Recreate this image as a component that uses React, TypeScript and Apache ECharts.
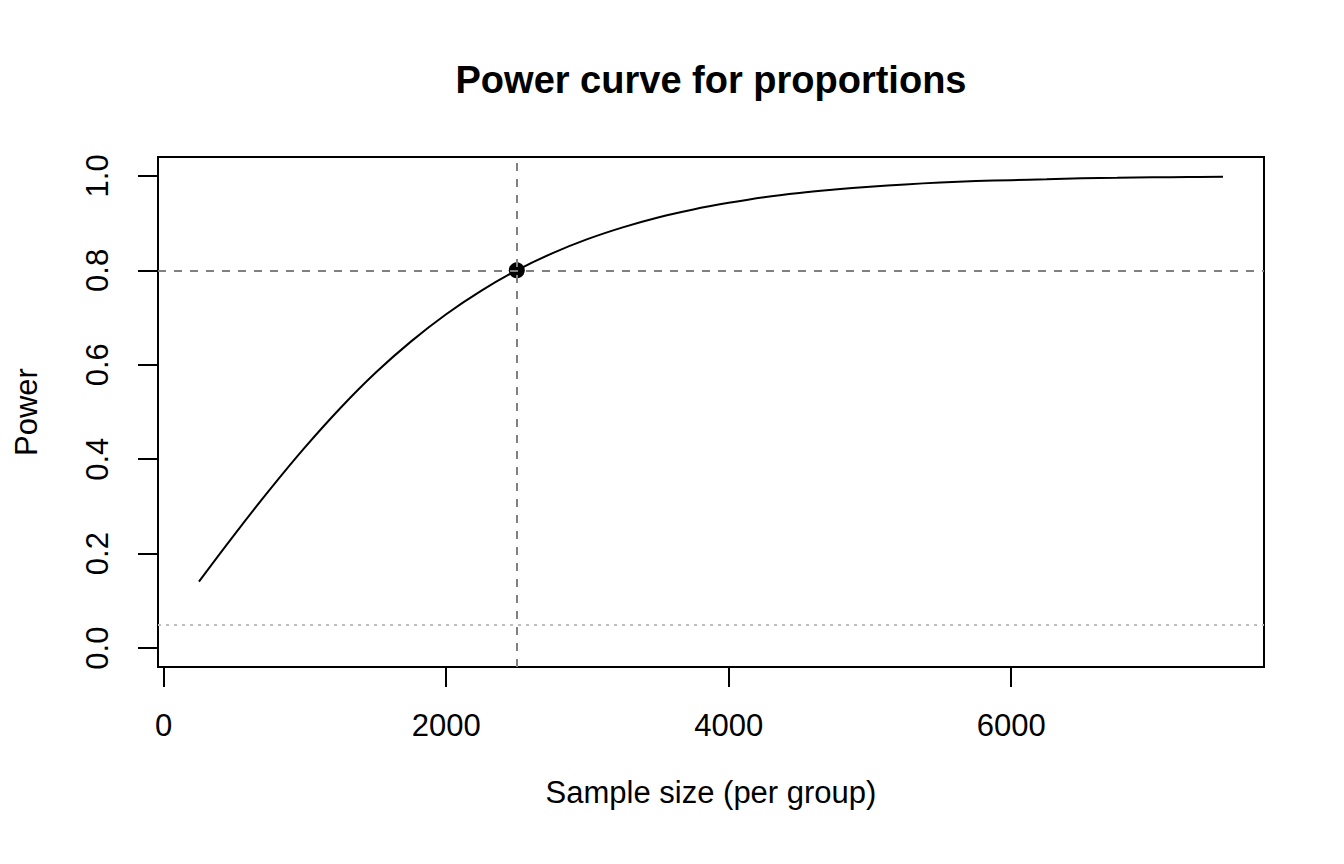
import { useEffect, useRef } from "react";
import * as echarts from "echarts";

const SAMPLE_SIZES = [
  250, 500, 750, 1000, 1250, 1500, 1750, 2000, 2250, 2500,
  2750, 3000, 3250, 3500, 3750, 4000, 4250, 4500, 4750, 5000,
  5250, 5500, 5750, 6000, 6250, 6500, 6750, 7000, 7250, 7500,
];
const POWER_VALUES = [
  0.141, 0.240, 0.335, 0.425, 0.508, 0.583, 0.649, 0.707, 0.757, 0.800,
  0.836, 0.866, 0.891, 0.912, 0.929, 0.943, 0.955, 0.964, 0.971, 0.977,
  0.982, 0.986, 0.989, 0.991, 0.993, 0.995, 0.996, 0.997, 0.9975, 0.998,
];
const X_TICKS = [0, 2000, 4000, 6000];
const Y_TICKS = [0, 0.2, 0.4, 0.6, 0.8, 1.0];
const TARGET_N = 2500;
const TARGET_POWER = 0.8;
const ALPHA_LEVEL = 0.05;

const FONT = "'Liberation Sans', Arial, Helvetica, sans-serif";
const GRID = { left: 158, top: 157, width: 1106, height: 510 };

export default function App() {
  const containerRef = useRef<HTMLDivElement | null>(null);

  useEffect(() => {
    if (!containerRef.current) {
      return;
    }

    const chart = echarts.init(containerRef.current, null, { renderer: "svg" });

    const option: echarts.EChartsOption = {
      animation: false,
      backgroundColor: "#ffffff",
      graphic: [
        {
          type: "text",
          x: GRID.left + GRID.width / 2,
          y: 80,
          style: {
            text: "Power curve for proportions",
            font: `bold 38px ${FONT}`,
            fill: "#000",
            align: "center",
            verticalAlign: "middle",
          },
        },
      ],
      grid: {
        ...GRID,
        show: true,
        borderColor: "#000",
        borderWidth: 2,
        backgroundColor: "transparent",
        outerBoundsMode: "none",
      } as any,
      xAxis: {
        type: "value",
        min: -40,
        max: 7790,
        name: "Sample size (per group)",
        nameLocation: "middle",
        nameGap: 110,
        nameTextStyle: { fontFamily: FONT, fontSize: 31, color: "#000" },
        axisLine: { show: false, onZero: false },
        axisTick: {
          show: true,
          length: 20,
          customValues: X_TICKS,
          lineStyle: { color: "#000", width: 2 },
        } as any,
        axisLabel: {
          customValues: X_TICKS,
          margin: 43,
          fontFamily: FONT,
          fontSize: 31,
          color: "#000",
          formatter: (value: number) => String(value),
        } as any,
        splitLine: { show: false },
      },
      yAxis: {
        type: "value",
        min: -0.04,
        max: 1.04,
        name: "Power",
        nameLocation: "middle",
        nameGap: 116,
        nameTextStyle: { fontFamily: FONT, fontSize: 31, color: "#000" },
        axisLine: { show: false, onZero: false },
        axisTick: {
          show: true,
          length: 20,
          customValues: Y_TICKS,
          lineStyle: { color: "#000", width: 2 },
        } as any,
        axisLabel: {
          customValues: Y_TICKS,
          rotate: 90,
          margin: 45,
          fontFamily: FONT,
          fontSize: 31,
          color: "#000",
          formatter: (value: number) => value.toFixed(1),
        } as any,
        splitLine: { show: false },
      },
      series: [
        {
          type: "line",
          data: SAMPLE_SIZES.map((n, i) => [n, POWER_VALUES[i]]),
          showSymbol: false,
          smooth: 0.4,
          lineStyle: { color: "#000", width: 2 },
          z: 3,
        },
        {
          type: "line",
          data: [],
          z: 2,
          markLine: {
            silent: true,
            symbol: ["none", "none"],
            label: { show: false },
            data: [
              { yAxis: TARGET_POWER, lineStyle: { color: "#808080", width: 2, type: [8, 8] } },
              { xAxis: TARGET_N, lineStyle: { color: "#808080", width: 2, type: [8, 8] } },
              { yAxis: ALPHA_LEVEL, lineStyle: { color: "#bebebe", width: 2, type: [3, 5] } },
            ],
          },
        },
        {
          type: "scatter",
          data: [[TARGET_N, TARGET_POWER]],
          symbol: "circle",
          symbolSize: 16,
          itemStyle: { color: "#000", opacity: 1 },
          z: 4,
        },
      ],
    };

    chart.setOption(option);

    return () => {
      chart.dispose();
    };
  }, []);

  return (
    <div
      ref={containerRef}
      style={{ position: "fixed", left: 0, top: 0, width: 1344, height: 864 }}
    />
  );
}
